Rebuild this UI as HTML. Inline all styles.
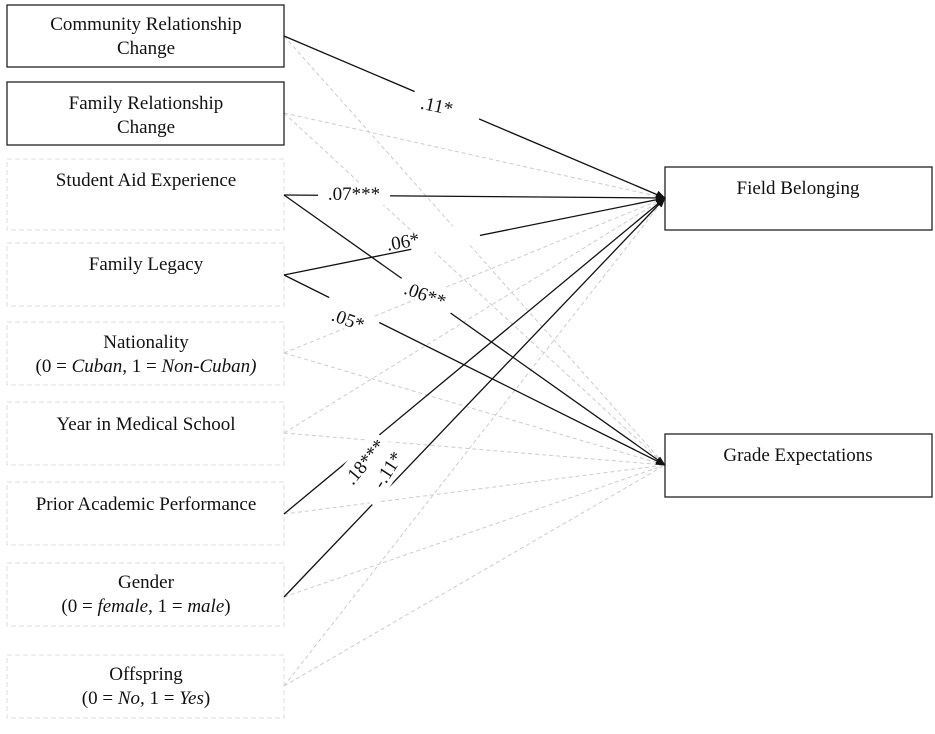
<!DOCTYPE html>
<html><head><style>
body{margin:0;background:#fff}
svg text{font-family:"Liberation Serif",serif;font-size:19px;fill:#111}
</style></head><body>
<svg width="935" height="729" xmlns="http://www.w3.org/2000/svg">
<defs><marker id="a" markerWidth="10" markerHeight="10" refX="9" refY="5" orient="auto" markerUnits="userSpaceOnUse"><path d="M0,1 L10,5 L0,9 z" fill="#111"/></marker></defs>
<g stroke="#ccc" stroke-dasharray="4,3" stroke-width="1">
<line x1="284" y1="36" x2="665" y2="465"/>
<line x1="284" y1="113" x2="665" y2="198"/><line x1="284" y1="113" x2="665" y2="465"/>
<line x1="284" y1="275" x2="665" y2="465" opacity="0"/>
<line x1="284" y1="353" x2="665" y2="198"/><line x1="284" y1="353" x2="665" y2="465"/>
<line x1="284" y1="433" x2="665" y2="198"/><line x1="284" y1="433" x2="665" y2="465"/>
<line x1="284" y1="514" x2="665" y2="465"/>
<line x1="284" y1="597" x2="665" y2="465"/>
<line x1="284" y1="686" x2="665" y2="198"/><line x1="284" y1="686" x2="665" y2="465"/>
</g>
<g fill="#fff" stroke="#ddd" stroke-dasharray="5,3">
<rect x="7" y="159" width="277" height="71"/><rect x="7" y="243" width="277" height="63"/>
<rect x="7" y="322" width="277" height="63"/><rect x="7" y="402" width="277" height="63"/>
<rect x="7" y="482" width="277" height="63"/><rect x="7" y="563" width="277" height="63"/>
<rect x="7" y="655" width="277" height="63"/>
</g>
<g fill="#fff" stroke="#222" stroke-width="1.3">
<rect x="7" y="5" width="277" height="62"/><rect x="7" y="82" width="277" height="63"/>
<rect x="665" y="167" width="267" height="63"/><rect x="665" y="434" width="267" height="63"/>
</g>
<g stroke="#111" stroke-width="1.3" marker-end="url(#a)">
<line x1="284" y1="36" x2="665" y2="198"/>
<line x1="284" y1="195" x2="665" y2="198"/>
<line x1="284" y1="275" x2="665" y2="198"/>
<line x1="284" y1="195" x2="665" y2="465"/>
<line x1="284" y1="275" x2="665" y2="465"/>
<line x1="284" y1="514" x2="665" y2="198"/>
<line x1="284" y1="597" x2="665" y2="198"/>
</g>
<g fill="#fff">
<rect x="412" y="90" width="70" height="30" transform="rotate(23 447 105)"/>
<rect x="318" y="183" width="72" height="22"/>
<rect x="410" y="228" width="70" height="22" transform="rotate(-11 445 239)"/>
<rect x="398" y="280" width="60" height="26" transform="rotate(35 428 293)"/>
<rect x="322" y="306" width="56" height="24" transform="rotate(28 350 318)"/>
<rect x="330" y="450" width="64" height="24" transform="rotate(-50 362 462)"/>
<rect x="352" y="462" width="64" height="24" transform="rotate(-57 384 474)"/>
</g>
<g text-anchor="middle">
<text x="437" y="112" transform="rotate(12 437 105)">.11*</text>
<text x="354" y="200">.07***</text>
<text x="403" y="248" transform="rotate(-10 403 242)">.06*</text>
<text x="425" y="301" transform="rotate(20 425 295)">.06**</text>
<text x="348" y="326" transform="rotate(20 348 320)">.05*</text>
<text x="365" y="468" transform="rotate(-50 365 462)">.18***</text>
<text x="388" y="476" transform="rotate(-57 388 470)">-.11*</text>
<text x="146" y="30">Community Relationship</text><text x="146" y="54">Change</text>
<text x="146" y="109">Family Relationship</text><text x="146" y="133">Change</text>
<text x="146" y="186">Student Aid Experience</text>
<text x="146" y="270">Family Legacy</text>
<text x="146" y="348">Nationality</text>
<text x="146" y="372">(0 = <tspan font-style="italic">Cuban</tspan>, 1 = <tspan font-style="italic">Non-Cuban)</tspan></text>
<text x="146" y="430">Year in Medical School</text>
<text x="146" y="510">Prior Academic Performance</text>
<text x="146" y="588">Gender</text>
<text x="146" y="612">(0 = <tspan font-style="italic">female</tspan>, 1 = <tspan font-style="italic">male</tspan>)</text>
<text x="146" y="680">Offspring</text>
<text x="146" y="704">(0 = <tspan font-style="italic">No</tspan>, 1 = <tspan font-style="italic">Yes</tspan>)</text>
<text x="798" y="194">Field Belonging</text>
<text x="798" y="461">Grade Expectations</text>
</g>
</svg>
</body></html>
